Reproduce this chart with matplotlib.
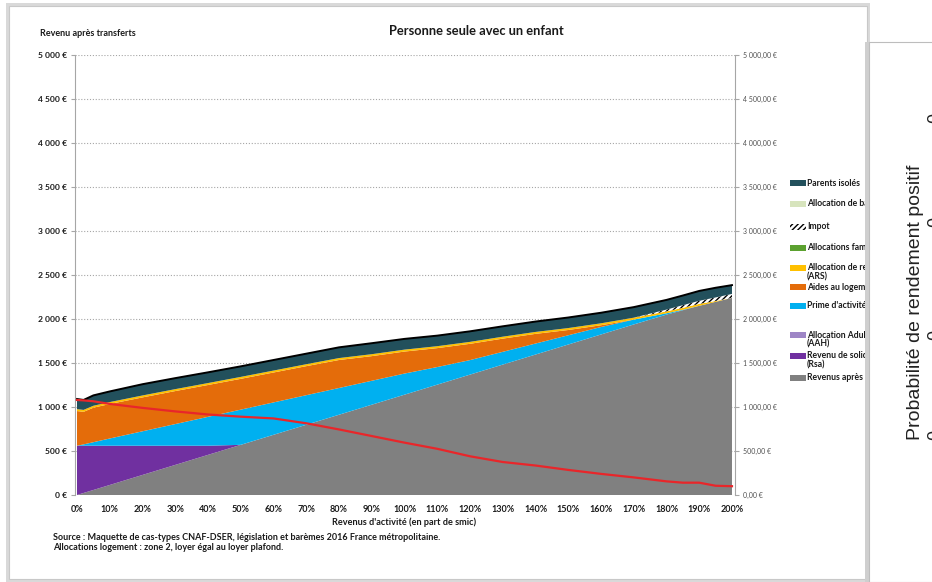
import numpy as np
import matplotlib
matplotlib.use("Agg")
import matplotlib.pyplot as plt
from matplotlib.patches import Rectangle
from matplotlib.ticker import FuncFormatter

# ---------------- data ----------------
smic_pct = [0, 2, 5, 10, 20, 30, 40, 50, 60, 70, 80, 90, 100, 110, 120, 130,
            140, 150, 160, 170, 180, 185, 190, 195, 200]

revenus_apres_impot = [0, 23, 57, 114, 228, 342, 456, 570, 684, 798, 912, 1026, 1140, 1254,
                       1368, 1482, 1596, 1710, 1824, 1938, 2050, 2100, 2150, 2195, 2240]
rsa = [560, 537, 503, 446, 332, 218, 104, 0, 0, 0, 0, 0, 0, 0, 0, 0, 0, 0, 0, 0, 0, 0, 0, 0, 0]
aah = [0] * 25
prime_activite = [0, 15, 40, 82, 164, 246, 328, 400, 368, 336, 304, 272, 240, 200, 165, 145,
                  125, 105, 85, 55, 15, 5, 0, 0, 0]
aides_logement = [394, 370, 392, 392, 385, 375, 362, 350, 340, 330, 318, 280, 250, 215, 185,
                  150, 110, 60, 20, 0, 0, 0, 0, 0, 0]
ars = [22, 22, 22, 22, 22, 22, 22, 22, 22, 22, 22, 22, 22, 22, 22, 22, 22, 22, 22, 22, 22,
       22, 22, 10, 0]
allocations_familiales = [0] * 25
impot = [0, 0, 0, 0, 0, 0, 0, 0, 0, 0, 0, 0, 0, 0, 0, 0, 0, 0, 0, 0, 20, 30, 35, 40, 45]
allocation_base = [0] * 25
parents_isoles = [115, 113, 118, 121, 128, 125, 122, 120, 120, 120, 122, 125, 122, 120, 120,
                  118, 118, 120, 120, 120, 110, 110, 112, 110, 100]
courbe_rouge = [1080, 1075, 1065, 1035, 990, 950, 915, 890, 870, 815, 745, 670, 595, 525,
                440, 375, 335, 285, 240, 200, 155, 140, 140, 105, 100]

legend_labels = [["Parents isolés"], ["Allocation de base"], ["Impot"],
                 ["Allocations familiales"], ["Allocation de rentrée scolaire", "(ARS)"],
                 ["Aides au logement"], ["Prime d'activité"],
                 ["Allocation Adulte Handicapé", "(AAH)"],
                 ["Revenu de solidarité active", "(Rsa)"], ["Revenus après impôt"]]
y_ticks = list(range(0, 5001, 500))
x_ticks = list(range(0, 201, 10))

# ---------------- styling ----------------
C_GRAY = "#808080"; C_RSA = "#7030A0"; C_AAH = "#9E86C6"; C_PRIME = "#00B0F0"
C_LOG = "#E46C0A"; C_ARS = "#FFC000"; C_FAM = "#5BA12F"; C_BASE = "#D7E4BD"
C_PAR = "#22505C"; C_RED = "#E8262A"

W, H = 932, 582
def fx(x): return x / W
def fy(y): return 1 - y / H

FONT = "Lato"
fig = plt.figure(figsize=(W / 100, H / 100), dpi=100)
fig.patch.set_facecolor("white")

# left card (with light shadow) -- behind the axes
fig.patches.append(Rectangle((fx(6), fy(582)), fx(864), (582 - 3) / H, transform=fig.transFigure,
                             facecolor="#d9d9d9", edgecolor="none", zorder=-2))
fig.patches.append(Rectangle((fx(9), fy(579)), fx(858), (579 - 6) / H, transform=fig.transFigure,
                             facecolor="white", edgecolor="#c8c8c8", lw=0.8, zorder=-1))

ax = fig.add_axes([fx(75), fy(495), (735 - 75) / W, (495 - 55) / H])
ax.set_facecolor("none")
ax.set_xlim(-0.61, 200.92)
ax.set_ylim(0, 5000)

polys = ax.stackplot(smic_pct, revenus_apres_impot, rsa, aah, prime_activite, aides_logement,
                     ars, allocations_familiales, impot, allocation_base, parents_isoles,
                     colors=[C_GRAY, C_RSA, C_AAH, C_PRIME, C_LOG, C_ARS, C_FAM, "white",
                             C_BASE, C_PAR], linewidth=0, zorder=2)
polys[7].set_hatch("//////")
polys[7].set_edgecolor("black")
polys[7].set_linewidth(0)

total = np.sum([revenus_apres_impot, rsa, aah, prime_activite, aides_logement, ars,
                allocations_familiales, impot, allocation_base, parents_isoles], axis=0)
ax.plot(smic_pct, total, color="black", lw=1.4, zorder=3)

ax.set_yticks(y_ticks)
ax.yaxis.set_major_formatter(FuncFormatter(lambda v, p: f"{int(v):,}".replace(",", " ") + " €"))
ax.set_xticks(x_ticks)
ax.set_xticklabels([f"{t}%" for t in x_ticks])
ax.grid(axis="y", color="#a6a6a6", linestyle=(0, (1, 1.6)), lw=0.8, zorder=0)
ax.set_axisbelow(True)
for s in ["top", "bottom", "right"]:
    ax.spines[s].set_visible(False)
ax.spines["left"].set_color("#a6a6a6")
ax.tick_params(axis="y", length=3, color="#a6a6a6", pad=3.0, labelsize=6.1, labelcolor="#1a1a1a")
ax.tick_params(axis="x", length=0, pad=7, labelsize=6.5, labelcolor="#1a1a1a")
for lab in ax.get_yticklabels() + ax.get_xticklabels():
    lab.set_fontfamily(FONT); lab.set_fontweight("bold")

ax2 = ax.twinx()
ax2.set_ylim(0, 5000)
ax2.plot(smic_pct, courbe_rouge, color=C_RED, lw=1.6, zorder=4)
ax2.set_yticks(y_ticks)
ax2.yaxis.set_major_formatter(FuncFormatter(lambda v, p: f"{int(v):,}".replace(",", " ") + ",00 €"))
for s in ["top", "bottom", "left"]:
    ax2.spines[s].set_visible(False)
ax2.spines["right"].set_color("#a6a6a6")
ax2.tick_params(axis="y", length=3, color="#a6a6a6", pad=3, labelsize=5, labelcolor="#505050")
for lab in ax2.get_yticklabels():
    lab.set_fontfamily(FONT)

# texts
fig.text(fx(476), fy(31), "Personne seule avec un enfant", ha="center", va="center",
         fontsize=9.3, fontweight="bold", family=FONT, color="#1a1a1a")
fig.text(fx(40), fy(34), "Revenu après transferts", ha="left", va="center",
         fontsize=6.5, fontweight="bold", family=FONT, color="#1a1a1a")
fig.text(fx(404), fy(522), "Revenus d'activité (en part de smic)", ha="center", va="center",
         fontsize=6.6, fontweight="bold", family=FONT, color="#1a1a1a")
fig.text(fx(53), fy(537), "Source : Maquette de cas-types CNAF-DSER, législation et barèmes 2016 France métropolitaine.",
         ha="left", va="center", fontsize=6.45, fontweight="bold", family=FONT, color="#1a1a1a")
fig.text(fx(53), fy(547), "Allocations logement : zone 2, loyer égal au loyer plafond.",
         ha="left", va="center", fontsize=6.45, fontweight="bold", family=FONT, color="#1a1a1a")

# legend (manual, Excel-like)
leg_rows = [183, 204, 227, 248, 268, 287, 306, 335, 356, 378]
leg_colors = [C_PAR, C_BASE, "white", C_FAM, C_ARS, C_LOG, C_PRIME, C_AAH, C_RSA, C_GRAY]
for yy, lines, col, i in zip(leg_rows, legend_labels, leg_colors, range(10)):
    r = Rectangle((fx(790), fy(yy + 2.8)), 16 / W, 5.6 / H, transform=fig.transFigure,
                  facecolor=col, edgecolor="none", zorder=5)
    if i == 2:
        r.set_hatch("//////"); r.set_edgecolor("black"); r.set_linewidth(0)
    fig.patches.append(r)
    for k, t in enumerate(lines):
        fig.text(fx(807), fy(yy + k * 8.5), t, ha="left", va="center", fontsize=6.2,
                 fontweight="bold", family=FONT, color="#1a1a1a", zorder=5)

# second (overlapping) slide card on the right
fig.patches.append(Rectangle((fx(865), 0), 6 / W, fy(42), transform=fig.transFigure,
                             facecolor="#cfcfcf", edgecolor="none", zorder=10))
fig.patches.append(Rectangle((fx(869), 0), 70 / W, fy(42), transform=fig.transFigure,
                             facecolor="white", edgecolor="#bdbdbd", lw=0.8, zorder=11))
fig.text(fx(915), fy(302), "Probabilité de rendement positif", rotation=90, ha="center",
         va="center", fontsize=14, family="Liberation Sans", color="#222222", zorder=12)
for yy in [118, 222, 335, 435]:
    fig.text(fx(936), fy(yy), "0", rotation=90, ha="center", va="center", fontsize=13,
             family="Liberation Sans", color="#222222", zorder=12)

fig.savefig("out.png", dpi=100, facecolor="white")
